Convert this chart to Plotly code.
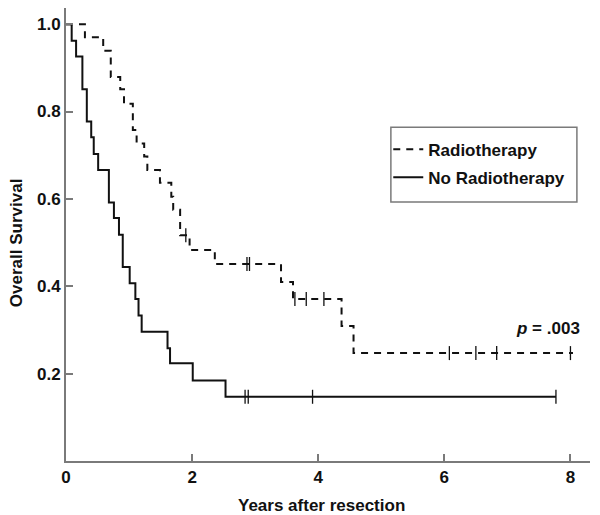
import plotly.graph_objects as go

# ---- data ----
rt_time = [0, 0.30, 0.59, 0.71, 0.86, 0.92, 1.06, 1.12, 1.24, 1.29, 1.49, 1.67, 1.70,
           1.81, 1.96, 2.36, 3.41, 3.60, 4.37, 4.56, 8.04]
rt_surv = [1.0, 0.970, 0.939, 0.879, 0.851, 0.818, 0.758, 0.727, 0.697, 0.666, 0.637,
           0.605, 0.575, 0.517, 0.483, 0.451, 0.410, 0.371, 0.309, 0.247, 0.247]
rt_cens_time = [1.90, 2.87, 2.91, 3.63, 3.81, 4.09, 6.08, 6.50, 6.83, 8.00]
rt_cens_surv = [0.517, 0.451, 0.451, 0.371, 0.371, 0.371, 0.247, 0.247, 0.247, 0.247]

nort_time = [0, 0.09, 0.16, 0.26, 0.33, 0.40, 0.44, 0.51, 0.68, 0.76, 0.84, 0.90, 1.01,
             1.10, 1.15, 1.20, 1.61, 1.65, 2.01, 2.53, 7.77]
nort_surv = [1.0, 0.962, 0.926, 0.851, 0.777, 0.741, 0.703, 0.666, 0.592, 0.556, 0.518,
             0.444, 0.407, 0.371, 0.333, 0.296, 0.258, 0.224, 0.184, 0.147, 0.147]
nort_cens_time = [2.84, 2.89, 3.91, 7.77]
nort_cens_surv = [0.147, 0.147, 0.147, 0.147]

x_ticks = [0, 2, 4, 6, 8]
y_ticks = [0.2, 0.4, 0.6, 0.8, 1.0]
y_ticktext = ["0.2", "0.4", "0.6", "0.8", "1.0"]
x_title = "Years after resection"
y_title = "Overall Survival"
p_text = "<i>p</i> = .003"

FONT = "Liberation Sans, Arial, Helvetica, sans-serif"
INK = "#111111"
AXIS = "#7a7a7a"
BOLD = dict(family=FONT, size=17, color=INK, weight="bold")

fig = go.Figure()
fig.add_trace(go.Scatter(
    x=rt_time, y=rt_surv, mode="lines", line_shape="hv", name="Radiotherapy",
    legendgroup="a", line=dict(color=INK, width=2, dash="7px,6px")))
fig.add_trace(go.Scatter(
    x=nort_time, y=nort_surv, mode="lines", line_shape="hv", name="No Radiotherapy",
    legendgroup="b", line=dict(color=INK, width=2)))
fig.add_trace(go.Scatter(
    x=rt_cens_time, y=rt_cens_surv, mode="markers", showlegend=False,
    marker=dict(symbol="line-ns-open", size=10, color=INK,
                line=dict(color=INK, width=1.3))))
fig.add_trace(go.Scatter(
    x=nort_cens_time, y=nort_cens_surv, mode="markers", showlegend=False,
    marker=dict(symbol="line-ns-open", size=10, color=INK,
                line=dict(color=INK, width=1.3))))

fig.add_annotation(x=7.65, y=0.304, xref="x", yref="y", text=p_text, showarrow=False,
                   font=BOLD)
# axis titles
fig.add_annotation(x=0.487, y=-0.098, xref="paper", yref="paper", text=x_title,
                   showarrow=False, xanchor="center", yanchor="middle", font=BOLD)
fig.add_annotation(x=-0.0955, y=0.483, xref="paper", yref="paper", text=y_title,
                   showarrow=False, textangle=-90, xanchor="center", yanchor="middle",
                   font=BOLD)

# legend frame
fig.add_shape(type="rect", xref="paper", yref="paper",
              x0=0.620, x1=0.975, y0=0.572, y1=0.737,
              line=dict(color=AXIS, width=1.5), fillcolor="rgba(0,0,0,0)")

# the page body adds an 8 px offset, so the figure is 8 px smaller than the window
fig.update_layout(
    width=592, height=507,
    margin=dict(l=58, r=10, t=0, b=54, autoexpand=False),
    paper_bgcolor="white", plot_bgcolor="white",
    font=dict(family=FONT, size=17, color=INK),
    showlegend=True,
    legend=dict(x=0.615, y=0.727, xanchor="left", yanchor="top",
                borderwidth=0, bgcolor="rgba(0,0,0,0)",
                tracegroupgap=3, itemwidth=30, font=BOLD),
    xaxis=dict(range=[0, 8.31], tickvals=x_ticks, ticks="inside", ticklen=7,
               tickwidth=1.5, tickcolor=AXIS, showline=True, linecolor=AXIS,
               linewidth=2, showgrid=False, zeroline=False, automargin=False,
               tickfont=BOLD),
    yaxis=dict(range=[0, 1.037], tickvals=y_ticks, ticktext=y_ticktext, ticks="inside",
               ticklen=7, tickwidth=1.5, tickcolor=AXIS, showline=True, linecolor=AXIS,
               linewidth=2, showgrid=False, zeroline=False, automargin=False,
               tickfont=BOLD),
)

fig.write_html("out.html")
